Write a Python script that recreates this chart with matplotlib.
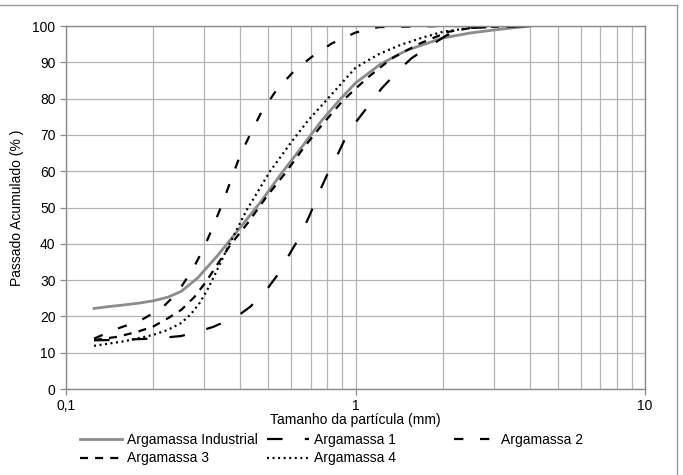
import matplotlib
matplotlib.use("Agg")
import matplotlib.pyplot as plt
from matplotlib.ticker import FixedLocator, LogLocator, NullFormatter, FuncFormatter
from matplotlib.lines import Line2D

plt.rcParams['font.family'] = ['Liberation Sans', 'DejaVu Sans']

# valores (tamanho em mm, passante acumulado em %)
x_ind = [0.125, 0.14, 0.16, 0.18, 0.2, 0.225, 0.25, 0.285, 0.335, 0.4, 0.475, 0.55, 0.65, 0.765, 0.88,
         1.0, 1.22, 1.5, 2.0, 2.5, 3.0, 4.0]
y_ind = [22.2, 22.7, 23.2, 23.7, 24.3, 25.3, 26.9, 30.6, 36.9, 44.5, 52.0, 59.0, 66.5, 74.0, 79.6,
         84.3, 89.5, 93.3, 96.7, 98.1, 98.9, 100]

x_a1 = [0.125, 0.16, 0.2, 0.25, 0.285, 0.322, 0.39, 0.435, 0.5, 0.54, 0.6, 0.643, 0.7, 0.733, 0.8, 0.85,
        0.93, 1.0, 1.14, 1.23, 1.43, 1.56, 1.83, 2.07, 2.5, 4.0]
y_a1 = [13.4, 13.6, 13.9, 14.6, 15.8, 17.1, 20.0, 22.8, 28.0, 31.6, 38.0, 42.0, 48.5, 52.6, 59.2, 63.1,
        69.7, 73.4, 79.3, 82.8, 88.3, 91.1, 94.8, 97.5, 99.5, 100]

x_a2 = [0.125, 0.15, 0.18, 0.214, 0.244, 0.275, 0.3, 0.323, 0.349, 0.373, 0.4, 0.438, 0.474, 0.534,
        0.61, 0.706, 0.828, 1.0, 1.2, 2.0, 4.0]
y_a2 = [13.9, 16.6, 18.8, 22.2, 26.8, 33.2, 39.0, 45.0, 51.6, 58.0, 64.5, 71.0, 76.4, 82.4,
        87.4, 91.5, 95.2, 98.2, 99.7, 100, 100]

x_a3 = [0.125, 0.151, 0.177, 0.2, 0.225, 0.25, 0.278, 0.305, 0.335, 0.369, 0.426, 0.493, 0.571, 0.66,
        0.774, 0.908, 1.094, 1.334, 1.67, 2.09, 2.6, 4.0]
y_a3 = [13.5, 14.4, 15.8, 17.2, 19.5, 21.8, 25.4, 29.6, 34.6, 39.6, 45.9, 53.0, 59.4, 66.3,
        73.2, 79.6, 85.6, 91.1, 95.2, 98.4, 99.7, 100]

x_a4 = [0.125, 0.16, 0.2, 0.225, 0.25, 0.27, 0.29, 0.31, 0.33, 0.36, 0.42, 0.507, 0.6, 0.686, 0.794,
        1.0, 1.2, 1.43, 1.7, 2.0, 2.5, 3.0, 4.0]
y_a4 = [11.9, 13.2, 14.9, 16.3, 18.2, 20.6, 23.8, 27.8, 32.2, 38.6, 49.2, 60.0, 68.0, 74.0, 79.6,
        88.5, 92.2, 94.8, 96.8, 98.4, 99.5, 100, 100]

fig = plt.figure(figsize=(6.83, 4.75), dpi=100)
ax = fig.add_axes([0.0966, 0.181, 0.8478, 0.7642])

lw = 1.6
l_ind, = ax.plot(x_ind, y_ind, color='#8c8c8c', lw=2.0, label='Argamassa Industrial')
l_a1, = ax.plot(x_a1, y_a1, color='black', lw=lw, dashes=(7, 10), label='Argamassa 1')
l_a2, = ax.plot(x_a2, y_a2, color='black', lw=lw, dashes=(4.2, 7.5), label='Argamassa 2')
l_a3, = ax.plot(x_a3, y_a3, color='black', lw=lw, dashes=(3.6, 3.2), label='Argamassa 3')
l_a4, = ax.plot(x_a4, y_a4, color='black', lw=lw, dashes=(0.9, 1.6), label='Argamassa 4')

ax.set_xscale('log')
ax.set_xlim(0.1, 10)
ax.set_ylim(0, 100)
ax.yaxis.set_major_locator(FixedLocator(range(0, 101, 10)))
ax.xaxis.set_major_locator(FixedLocator([0.1, 1, 10]))
ax.xaxis.set_minor_locator(LogLocator(base=10, subs=range(2, 10)))
ax.xaxis.set_minor_formatter(NullFormatter())
ax.xaxis.set_major_formatter(FuncFormatter(lambda v, p: ('%g' % v).replace('.', ',')))

ax.grid(True, which='both', axis='x', color='#b4b4b4', lw=0.9)
ax.grid(True, which='major', axis='y', color='#b4b4b4', lw=0.9)
ax.set_axisbelow(True)
for s in ax.spines.values():
    s.set_color('#8a8a8a')
    s.set_linewidth(1.0)
ax.tick_params(axis='both', which='major', labelsize=10, color='#8a8a8a', length=4, width=0.9)
ax.tick_params(axis='x', which='minor', length=0)
ax.tick_params(axis='x', pad=3)

ax.set_xlabel('Tamanho da partícula (mm)', fontsize=10, labelpad=0)
ax.set_ylabel('Passado Acumulado (% )', fontsize=10, labelpad=6)

# uma legenda por coluna (colunas de largura fixa)
columns = [([l_ind, l_a3], 80), ([l_a1, l_a4], 267), ([l_a2], 454)]
for hs, px in columns:
    leg = fig.legend(hs, [h.get_label() for h in hs], loc='upper left',
                     bbox_to_anchor=(px / 683, 0.088), ncol=1, frameon=False, fontsize=10,
                     handlelength=3.0, handletextpad=0.35, labelspacing=0.3,
                     borderaxespad=0, borderpad=0)

# moldura externa
fig.add_artist(Line2D([0, 677 / 683], [1 - 5 / 475, 1 - 5 / 475], transform=fig.transFigure,
                      color='#9a9a9a', lw=1.0))
fig.add_artist(Line2D([677 / 683, 677 / 683], [0, 1 - 5 / 475], transform=fig.transFigure,
                      color='#9a9a9a', lw=1.0))

fig.savefig('out.png', dpi=100)
